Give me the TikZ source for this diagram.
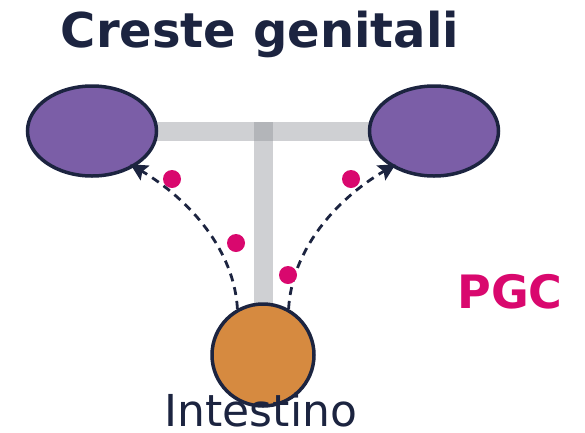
\documentclass[tikz,border=0pt]{standalone}
\usepackage{fontspec}
\setmainfont{DejaVu Sans}
\usetikzlibrary{shapes.geometric,arrows.meta,backgrounds}
\definecolor{navy}{RGB}{28,36,64}
\definecolor{crestfill}{RGB}{123,94,167}
\definecolor{gutfill}{RGB}{214,138,64}
\definecolor{barcol}{RGB}{140,143,150}
\definecolor{pgccol}{RGB}{217,8,110}
\tikzset{
    migr/.style={navy,line width=2.8pt,dash pattern=on 8pt off 6pt,shorten >=-5pt,
        arrows={-Stealth[length=17pt,width=17pt,inset=3pt]}}
}
\begin{document}
\begin{tikzpicture}[x=1pt,y=-1pt]
    \tikzstyle{every node}+=[inner sep=0pt]
    \tikzstyle{crest}=[ellipse,draw=navy,line width=3.5pt,fill=crestfill,minimum width=129pt,minimum height=90pt]
    \tikzstyle{gut}=[circle,draw=navy,line width=3.5pt,fill=gutfill,minimum size=102pt]
    \tikzstyle{bar}=[barcol,opacity=0.42,line width=19pt]
    \tikzstyle{cell}=[circle,fill=pgccol,minimum size=18pt]
    \useasboundingbox (0,0) rectangle (585,432);
    \node[anchor=base,text=navy,font=\fontsize{48}{48}\selectfont\bfseries] (title) at (260,47) {Creste genitali};
    \node[crest] (lcrest) at (92,131) {};
    \node[crest] (rcrest) at (434,131) {};
    \node[gut] (gut) at (263,355) {};
    \coordinate (hub) at (263,122);
    \begin{scope}[on background layer]
    \draw[bar] (lcrest.center) -- (rcrest.center);
    \draw[bar] (hub) -- (gut.center);
    \end{scope}
    \draw[migr] (gut.119) .. controls (234,250) and (190,200) .. (lcrest.-40);
    \draw[migr] (gut.61) .. controls (292,250) and (335,200) .. (rcrest.-140);
    \node[cell] (c1) at (172,179) {};
    \node[cell] (c2) at (236,243) {};
    \node[cell] (c3) at (351,179) {};
    \node[cell] (c4) at (288,275) {};
    \node[anchor=base,text=navy,font=\fontsize{44}{44}\selectfont] (gutlabel) at (261,426) {Intestino};
    \node[anchor=base,text=pgccol,font=\fontsize{46}{46}\selectfont\bfseries] (pgc) at (510,308) {PGC};
\end{tikzpicture}
\end{document}
